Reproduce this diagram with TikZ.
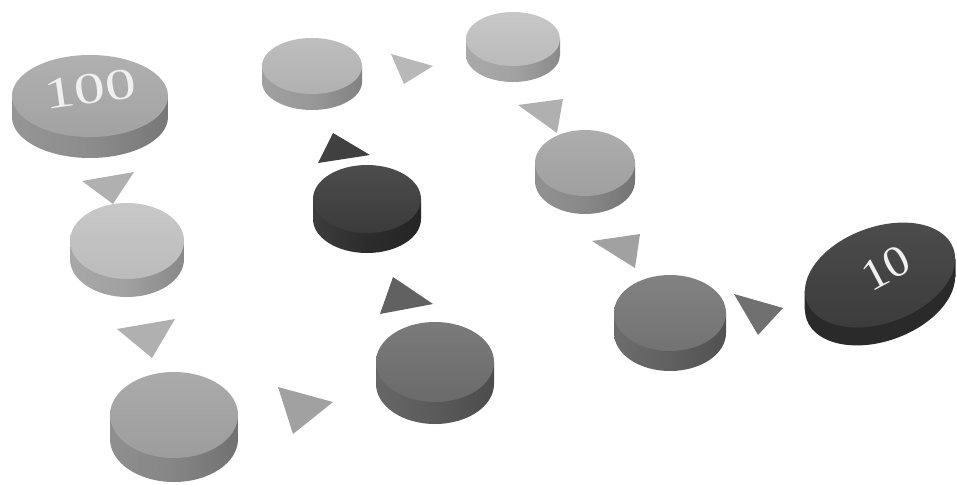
\documentclass[tikz,border=0pt]{standalone}
\usepackage{fontspec}
\setmainfont{Liberation Serif}
\begin{document}
\begin{tikzpicture}[x=1pt,y=-1pt]
\useasboundingbox (0,0) rectangle (957,484);
\fill[white] (0,0) rectangle (957,484);
% disc: cx, cy, rx, ry, h, topcolor, sidecolor, name
\newcommand\mydisc[8]{%
  \shade[left color=#7!92!white, right color=#7!85!black, middle color=#7]
    (#1-#3,#2) -- (#1-#3,#2+#5) arc[start angle=180,end angle=360,x radius=#3pt,y radius=#4pt] -- (#1+#3,#2) -- cycle;
  \shade[top color=#6!92!white, bottom color=#6!96!black]
    (#1,#2) ellipse[x radius=#3pt,y radius=#4pt];
  \coordinate (#8) at (#1,#2);}
\definecolor{c1t}{HTML}{A9A9A9}\definecolor{c1s}{HTML}{8C8C8C}
\definecolor{c2t}{HTML}{C3C3C3}\definecolor{c2s}{HTML}{A0A0A0}
\definecolor{c3t}{HTML}{A3A3A3}\definecolor{c3s}{HTML}{858585}
\definecolor{c4t}{HTML}{B8B8B8}\definecolor{c4s}{HTML}{989898}
\definecolor{c5t}{HTML}{3D3D3D}\definecolor{c5s}{HTML}{2C2C2C}
\definecolor{c6t}{HTML}{6F6F6F}\definecolor{c6s}{HTML}{5A5A5A}
\definecolor{c7t}{HTML}{C2C2C2}\definecolor{c7s}{HTML}{A2A2A2}
\definecolor{c8t}{HTML}{A6A6A6}\definecolor{c8s}{HTML}{888888}
\definecolor{c9t}{HTML}{777777}\definecolor{c9s}{HTML}{606060}
\definecolor{cXt}{HTML}{3D3D3D}\definecolor{cXs}{HTML}{2A2A2A}
\tikzset{tri/.style={fill=#1}, disclabel/.style={text=white!94!black}}
% discs
\mydisc{90}{96}{78}{41}{21}{c1t}{c1s}{d1}
\mydisc{127}{241}{57}{38}{18}{c2t}{c2s}{d2}
\mydisc{174}{415}{64}{43}{24}{c3t}{c3s}{d3}
\mydisc{312}{66}{50}{28}{16}{c4t}{c4s}{d4}
\mydisc{367}{199}{54}{34}{20}{c5t}{c5s}{d5}
\mydisc{435}{362}{59}{40}{22}{c6t}{c6s}{d6}
\mydisc{513}{39}{47}{27}{16}{c7t}{c7s}{d7}
\mydisc{585}{163}{50}{33}{18}{c8t}{c8s}{d8}
\mydisc{670}{313}{56}{38}{20}{c9t}{c9s}{d9}
% rotated disc "10"
\coordinate (d10) at (880,275);
\fill[cXs] (880,293) ellipse[x radius=78pt,y radius=48pt,rotate=20];
\fill[cXs] (880-75.5,275+16) -- (880-75.5,293+16) -- (880+75.5,293-16) -- (880+75.5,275-16) -- cycle;
\shade[top color=cXt!92!white, bottom color=cXt!96!black, rotate around={20:(d10)}] (d10) ellipse[x radius=78pt,y radius=48pt];
% labels
\node[disclabel, rotate=8, xscale=1.4, font=\fontsize{44}{44}\selectfont] (l100) at (90,89) {100};
\node[disclabel, rotate=28, xscale=1.1, font=\fontsize{44}{44}\selectfont] (l10) at (886,268) {10};
% triangles
\fill[tri=black!31] (82,181) -- (134,172) -- (113,204) -- cycle;
\fill[tri=black!31] (117,329) -- (175,319) -- (152,358) -- cycle;
\fill[tri=black!37] (278,387) -- (333,402) -- (293,434) -- cycle;
\fill[tri=black!62] (393,277) -- (433,304) -- (380,314) -- cycle;
\fill[tri=black!75] (333,133) -- (370,155) -- (318,163) -- cycle;
\fill[tri=black!28] (391,54) -- (433,66) -- (404,84) -- cycle;
\fill[tri=black!31] (518,105) -- (563,99) -- (557,133) -- cycle;
\fill[tri=black!37] (592,241) -- (640,234) -- (635,268) -- cycle;
\fill[tri=black!56] (734,294) -- (783,308) -- (758,335) -- cycle;
\end{tikzpicture}
\end{document}
